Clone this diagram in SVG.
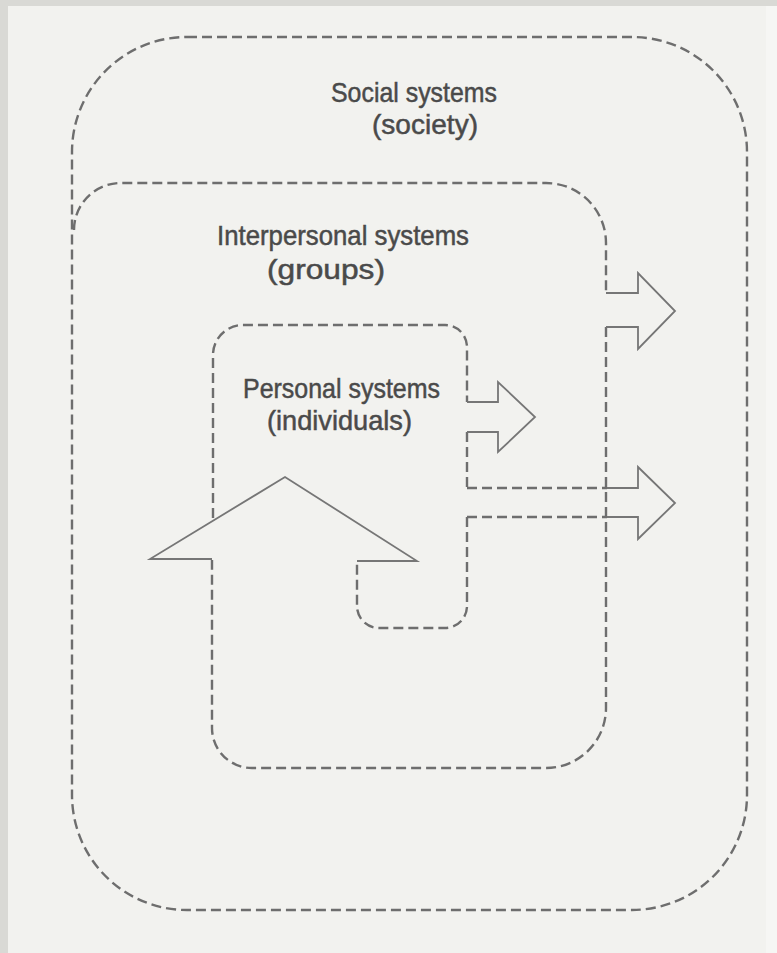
<svg xmlns="http://www.w3.org/2000/svg" width="777" height="953" viewBox="0 0 777 953">
<style>
.dash{fill:none;stroke:#6e6e6e;stroke-width:2.4;stroke-dasharray:10 5;stroke-linecap:butt}
.solid{fill:none;stroke:#767676;stroke-width:1.8;stroke-linejoin:miter}
.lbl{font-family:"Liberation Sans","DejaVu Sans",sans-serif;font-size:28px;fill:#4a4a4a;stroke:#4a4a4a;stroke-width:0.5;text-anchor:middle}
</style>
<rect x="0" y="0" width="777" height="953" fill="#f2f2ef"/>
<rect x="766" y="0" width="11" height="953" fill="#f6f6f4"/>
<rect x="0" y="0" width="777" height="6" fill="#d9d9d5"/>
<rect x="0" y="0" width="8" height="953" fill="#d9d9d5"/>
<g id="social">
<rect class="dash" x="72" y="37" width="675" height="873" rx="115" ry="115"/>
<text class="lbl" x="414" y="102" textLength="166" lengthAdjust="spacingAndGlyphs">Social systems</text>
<text class="lbl" x="425" y="134" textLength="106" lengthAdjust="spacingAndGlyphs">(society)</text>
</g>
<g id="interpersonal">
<path class="dash" d="M 74,230 A 47 47 0 0 1 121,183 H 546 A 60 60 0 0 1 606,243 V 293 M 606,327 V 708 A 60 60 0 0 1 546,768 H 252 A 40 40 0 0 1 212,728 V 560"/>
<text class="lbl" x="343" y="245" textLength="252" lengthAdjust="spacingAndGlyphs">Interpersonal systems</text>
<text class="lbl" x="326" y="279" textLength="118" lengthAdjust="spacingAndGlyphs">(groups)</text>
</g>
<g id="personal">
<path class="dash" d="M 213,518 V 355 A 30 30 0 0 1 243,325 H 445 A 22 22 0 0 1 467,347 V 402 M 467,432 V 488 M 467,517 V 606 A 22 22 0 0 1 445,628 H 379 A 22 22 0 0 1 357,606 V 561"/>
<text class="lbl" x="341.5" y="398" textLength="197" lengthAdjust="spacingAndGlyphs">Personal systems</text>
<text class="lbl" x="339.5" y="430" textLength="145" lengthAdjust="spacingAndGlyphs">(individuals)</text>
</g>
<g id="connectors">
<polyline class="solid" points="212,559 150,559 285,477 417,561 357,561"/>
<polyline class="solid" points="467,402 498,402 498,382 535,417 498,452 498,432 467,432"/>
<polyline class="solid" points="606,293 638,293 638,273 675,311 638,349 638,327 606,327"/>
<path class="dash" d="M 467,488 H 607 M 467,517 H 607"/>
<polyline class="solid" points="607,488 638,488 638,467 675,503 638,539 638,517 607,517"/>
</g>
</svg>
